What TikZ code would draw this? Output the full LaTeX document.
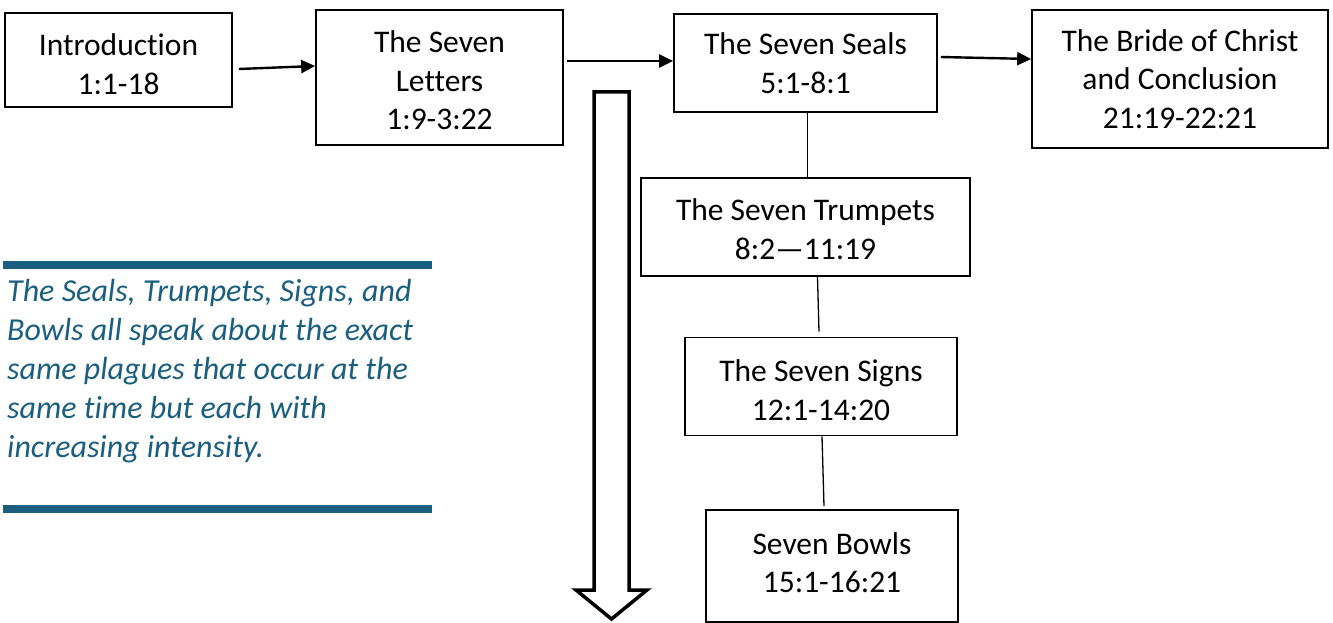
\documentclass[tikz,border=0pt]{standalone}
\usepackage{fontspec}
\setmainfont[Ligatures=NoCommon]{Carlito}
\usetikzlibrary{arrows.meta}
\definecolor{teal}{HTML}{1B5F80}
\tikzset{
  box/.style={draw, line width=1.7pt, inner sep=0pt},
  lbl/.style={align=center, inner sep=0pt, font=\fontsize{31.5}{38.5}\selectfont},
  link/.style={line width=1.3pt},
  flow/.style={line width=2.4pt, -{Triangle[length=14pt,width=13pt]}},
}
\begin{document}
\begin{tikzpicture}[x=1pt,y=-1pt]
\useasboundingbox (0,0) rectangle (1333,623);
% boxes
\node[box, minimum width=227pt, minimum height=94pt, label={[lbl,yshift=-4pt]center:{Introduction\\1:1-18}}] (intro) at (118.5,60) {};
\node[box, minimum width=247pt, minimum height=135pt, label={[lbl,yshift=-3pt]center:{The Seven\\Letters\\1:9-3:22}}] (letters) at (439.5,77.5) {};
\node[box, minimum width=263pt, minimum height=98pt, label={[lbl]center:{The Seven Seals\\5:1-8:1}}] (seals) at (805.5,63) {};
\node[box, minimum width=296pt, minimum height=138pt, label={[lbl]center:{The Bride of Christ\\and Conclusion\\21:19-22:21}}] (bride) at (1180,79) {};
\node[box, minimum width=329pt, minimum height=98pt, label={[lbl,yshift=-2pt]center:{The Seven Trumpets\\8:2---11:19}}] (trump) at (805.5,227) {};
\node[box, minimum width=272pt, minimum height=98pt, label={[lbl,yshift=-3.5pt]center:{The Seven Signs\\12:1-14:20}}] (signs) at (821,386.5) {};
\node[box, minimum width=252pt, minimum height=112pt, label={[lbl,yshift=3.5pt]center:{Seven Bowls\\15:1-16:21}}] (bowls) at (832,566) {};
% arrows
\draw[flow] ([xshift=6pt,yshift=-9pt]intro.east) -- ([yshift=11.5pt]letters.west);
\draw[flow] ([xshift=3pt,yshift=16.5pt]letters.east) -- ([yshift=2pt]seals.west);
\draw[flow] ([xshift=3pt,yshift=6pt]seals.east) -- ([yshift=20pt]bride.west);
% links
\draw[link] ([xshift=2pt]seals.south) -- ([xshift=2pt]trump.north);
\draw[link] ([xshift=12pt]trump.south) -- ([xshift=-2pt,yshift=5pt]signs.north);
\draw[link] ([xshift=1pt]signs.south) -- ([xshift=-8pt,yshift=3pt]bowls.north);
% block arrow
\draw[line width=3.5pt, line join=miter, fill=white] (594,92) -- (629,92) -- (629,590) -- (647,590) -- (611.5,619) -- (576,590) -- (594,590) -- cycle;
% side note
\fill[teal] (3,261) rectangle (432,269);
\fill[teal] (3,505) rectangle (432,513);
\node[anchor=north west, inner sep=0pt, align=left, text=teal, font=\fontsize{32}{39}\selectfont\itshape] (note) at (7,279) {The Seals, Trumpets, Signs, and\\Bowls all speak about the exact\\same plagues that occur at the\\same time but each with\\increasing intensity.};
\end{tikzpicture}
\end{document}
